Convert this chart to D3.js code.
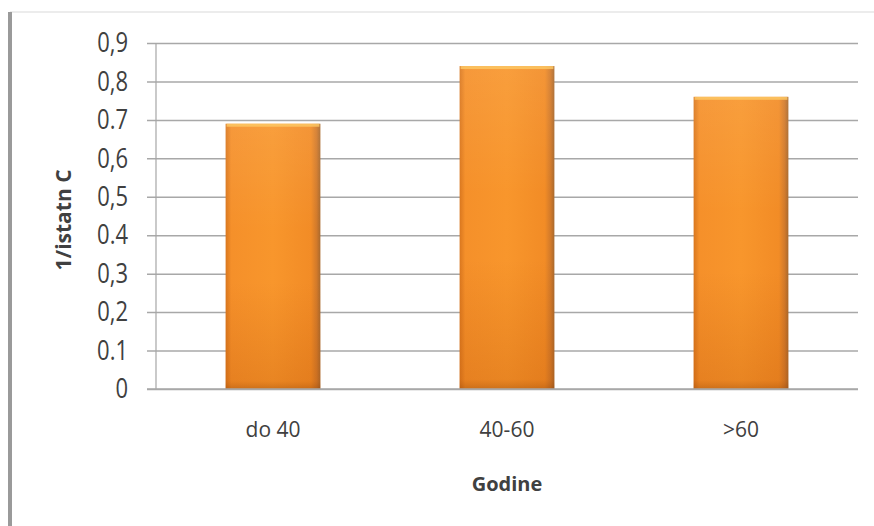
<!DOCTYPE html>
<html>
<head>
<meta charset="utf-8">
<script src="https://cdn.jsdelivr.net/npm/d3@7"></script>
<style>
  html, body { margin: 0; padding: 0; background: #fff; }
  svg { display: block; }
  text { font-family: "Open Sans", sans-serif; fill: #404040; }
</style>
</head>
<body>
<svg id="chart" width="874" height="526"></svg>
<script>
// ---- data ----
const categories = ["do 40", "40-60", ">60"];
const values = [0.69, 0.84, 0.76];
const tickValues = [0, 0.1, 0.2, 0.3, 0.4, 0.5, 0.6, 0.7, 0.8, 0.9];
const tickLabels = ["0", "0.1", "0,2", "0,3", "0.4", "0,5", "0,6", "0.7", "0,8", "0,9"];
const yTitle = "1/istatn C";
const xTitle = "Godine";

// ---- layout ----
const W = 874, H = 526;
const plot = { left: 156, right: 858, top: 43, bottom: 389 };

const svg = d3.select("#chart");

// frame
svg.append("line").attr("x1", 10).attr("x2", 874).attr("y1", 12).attr("y2", 12)
  .attr("stroke", "#d9d9d9").attr("stroke-width", 1);
svg.append("rect").attr("x", 8).attr("y", 12).attr("width", 4).attr("height", H - 12)
  .attr("fill", "#9a9a9a");

const x = d3.scaleBand().domain(categories).range([plot.left, plot.right])
  .paddingInner(0.595).paddingOuter(0.2975);
const y = d3.scaleLinear().domain([0, 0.9]).range([plot.bottom, plot.top]);

// defs: gradients
const defs = svg.append("defs");
const gh = defs.append("linearGradient").attr("id", "gh").attr("x1", 0).attr("x2", 1).attr("y1", 0).attr("y2", 0);
[[0, "#d9771f"], [0.06, "#f5902a"], [0.5, "#f8962c"], [0.9, "#f28c26"], [0.96, "#d27a2a"], [1, "#a9692d"]]
  .forEach(([o, c]) => gh.append("stop").attr("offset", o).attr("stop-color", c));
const gv = defs.append("linearGradient").attr("id", "gv").attr("x1", 0).attr("x2", 0).attr("y1", 0).attr("y2", 1);
[[0, "#ffffff", 0.08], [0.4, "#ffffff", 0.0], [0.6, "#b34a00", 0.0], [0.97, "#b34a00", 0.22], [1, "#8a3a00", 0.4]]
  .forEach(([o, c, a]) => gv.append("stop").attr("offset", o).attr("stop-color", c).attr("stop-opacity", a));

// gridlines + ticks
const yAxis = d3.axisLeft(y).tickValues(tickValues)
  .tickSize(-(plot.right - plot.left))
  .tickFormat((d, i) => tickLabels[i]);
const gy = svg.append("g").attr("transform", `translate(${plot.left},0)`).call(yAxis);
gy.select(".domain").remove();
gy.selectAll(".tick line").attr("stroke", "#a8a8a8").attr("stroke-width", 1.5).attr("x1", -9);
gy.selectAll(".tick text").attr("x", -28).attr("font-size", 22)
  .attr("fill", "#404040").attr("dy", "0.33em")
  .attr("transform", "scale(1,1.2)")
  .style("font-family", "'Open Sans', sans-serif");

// vertical axis line
svg.append("line").attr("x1", plot.left).attr("x2", plot.left)
  .attr("y1", plot.top).attr("y2", plot.bottom)
  .attr("stroke", "#a6a6a6").attr("stroke-width", 1.2);

// bars
const bars = svg.append("g").selectAll("g").data(values).join("g");
bars.append("rect")
  .attr("x", (d, i) => x(categories[i])).attr("y", d => y(d))
  .attr("width", x.bandwidth()).attr("height", d => y(0) - y(d))
  .attr("fill", "url(#gh)");
bars.append("rect")
  .attr("x", (d, i) => x(categories[i])).attr("y", d => y(d))
  .attr("width", x.bandwidth()).attr("height", d => y(0) - y(d))
  .attr("fill", "url(#gv)");
bars.append("rect")
  .attr("x", (d, i) => x(categories[i]) + 1).attr("y", d => y(d))
  .attr("width", x.bandwidth() - 2).attr("height", 3)
  .attr("fill", "#fcc966").attr("opacity", 0.8);

// bottom axis line
svg.append("line").attr("x1", plot.left - 9).attr("x2", plot.right)
  .attr("y1", plot.bottom).attr("y2", plot.bottom)
  .attr("stroke", "#a8a8a8").attr("stroke-width", 1.5);

// x labels
const xAxis = d3.axisBottom(x).tickSize(0);
const gx = svg.append("g").attr("transform", `translate(0,${plot.bottom})`).call(xAxis);
gx.select(".domain").remove();
gx.selectAll(".tick text").attr("y", 0).attr("dy", 48).attr("font-size", 21)
  .attr("fill", "#404040").style("font-family", "'Open Sans', sans-serif");

// axis titles
svg.append("text")
  .attr("transform", `translate(71,220) rotate(-90)`)
  .attr("text-anchor", "middle").attr("font-size", 21).attr("font-weight", "bold")
  .attr("fill", "#262626").text(yTitle);
svg.append("text")
  .attr("x", (plot.left + plot.right) / 2).attr("y", 491)
  .attr("text-anchor", "middle").attr("font-size", 20).attr("font-weight", "bold")
  .attr("fill", "#262626").text(xTitle);
</script>
</body>
</html>
